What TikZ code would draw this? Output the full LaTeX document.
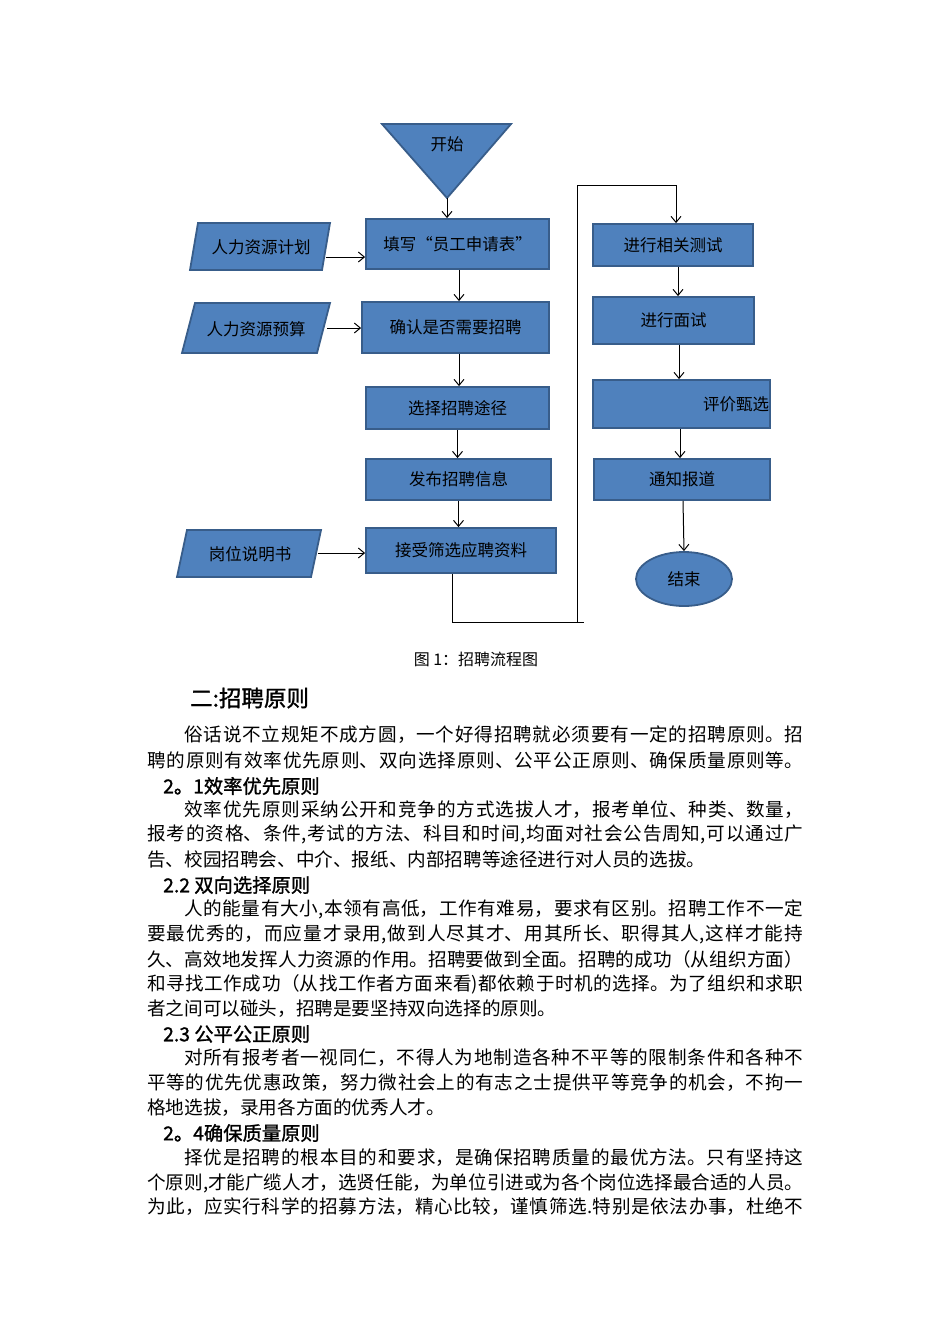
\documentclass[tikz,border=0pt]{standalone}
\usepackage{fontspec}
\setmainfont{Noto Sans CJK SC}
\newfontfamily\headfont[FakeBold=1.2]{Noto Sans CJK SC}
\usetikzlibrary{arrows.meta,shapes.geometric}
\XeTeXlinebreaklocale "zh"
\XeTeXlinebreakskip=0pt
\definecolor{boxblue}{HTML}{4F81BD}
\definecolor{boxedge}{HTML}{385D8A}
\newcommand\jl[4]{\node[bodytext,anchor=west] (#1) at #2 {\parbox{#3}{\tolerance=10000\XeTeXlinebreakskip=0pt plus 8pt minus 2pt\relax\parfillskip=0pt\noindent #4}};}
\newcommand\nl[3]{\node[bodytext,anchor=west] (#1) at #2 {#3};}
\begin{document}
\begin{tikzpicture}[x=1pt,y=-1pt,
  stepbox/.style={draw=boxedge, fill=boxblue, line width=1.8pt, inner sep=0pt,
    font=\fontsize{16.5}{19}\selectfont},
  parabox/.style={draw=boxedge, fill=boxblue, line width=1.8pt, line join=miter},
  lbl/.style={font=\fontsize{16.5}{19}\selectfont, inner sep=0pt},
  arr/.style={-{Straight Barb[length=6pt,width=10pt]}, line width=1pt},
  conn/.style={line width=1pt},
  bodytext/.style={inner sep=0pt, font=\fontsize{18.6}{22}\selectfont},
  headtext/.style={inner sep=0pt, anchor=west, font=\headfont\fontsize{19.3}{22}\selectfont}]
\useasboundingbox[fill=white] (0,0) rectangle (950,1344);

% start triangle
\draw[parabox] (382,124) -- (511,124) -- (447,198) -- cycle;
\node[lbl] (start) at (447,144) {开始};
\coordinate (startapex) at (447,198);

% left column
\node[stepbox, minimum width=183pt, minimum height=50pt] (fill) at (457.5,244) {填写“员工申请表”};
\node[stepbox, minimum width=187pt, minimum height=51pt] (confirm) at (455.5,327.5) {确认是否需要招聘};
\node[stepbox, minimum width=183pt, minimum height=42pt] (choose) at (457.5,408) {选择招聘途径};
\node[stepbox, minimum width=185pt, minimum height=41pt] (publish) at (458.5,479.5) {发布招聘信息};
\node[stepbox, minimum width=190pt, minimum height=45pt] (receive) at (461,550.5) {接受筛选应聘资料};

% parallelograms
\draw[parabox] (198,223) -- (330,223) -- (322,270) -- (190,270) -- cycle;
\node[lbl] (plan) at (261,247) {人力资源计划};
\coordinate (planout) at (326,257);
\draw[parabox] (195,303) -- (330,303) -- (317,353) -- (182,353) -- cycle;
\node[lbl] (budget) at (256,329) {人力资源预算};
\coordinate (budgetout) at (327,328);
\draw[parabox] (187,530) -- (321,530) -- (311,577) -- (177,577) -- cycle;
\node[lbl] (post) at (250,554) {岗位说明书};
\coordinate (postout) at (318,553);

% right column
\node[stepbox, minimum width=160pt, minimum height=42pt] (test) at (673,245) {进行相关测试};
\node[stepbox, minimum width=161pt, minimum height=47pt] (interview) at (673.5,320.5) {进行面试};
\node[stepbox, minimum width=177pt, minimum height=48pt, text width=175pt, align=right] (eval) at (681.5,404) {评价甄选};
\node[stepbox, minimum width=176pt, minimum height=41pt] (notify) at (682,479.5) {通知报道};
\node[stepbox, ellipse, minimum width=96pt, minimum height=54pt] (end) at (684,579) {结束};

% arrows left
\draw[arr] (startapex) -- (startapex |- fill.north);
\draw[arr] (planout) -- (fill.west |- planout);
\draw[arr] (budgetout) -- (confirm.west |- budgetout);
\draw[arr] (postout) -- (receive.west |- postout);
\draw[arr] ([xshift=1.5pt]fill.south) -- ([xshift=1.5pt]fill.south |- confirm.north);
\draw[arr] ([xshift=3.5pt]confirm.south) -- ([xshift=3.5pt]confirm.south |- choose.north);
\draw[arr] (choose.south) -- (choose.south |- publish.north);
\draw[arr] (publish.south) -- (publish.south |- receive.north);

% loop connector
\coordinate (loopB) at (452,622);
\coordinate (loopR) at (584,622);
\coordinate (loopV) at (577,622);
\coordinate (loopT) at (577,185);
\draw[conn] ([xshift=-9pt]receive.south) -- (loopB) -- (loopR);
\draw[arr] (loopV) -- (loopT) -| ([xshift=3pt]test.north);

% arrows right
\draw[arr] ([xshift=5pt]test.south) -- ([xshift=5pt]test.south |- interview.north);
\draw[arr] ([xshift=5.5pt]interview.south) -- ([xshift=5.5pt]interview.south |- eval.north);
\draw[arr] ([xshift=-1.5pt]eval.south) -- ([xshift=-1.5pt]eval.south |- notify.north);
\draw[arr] ([xshift=1pt]notify.south) -- (end.north);

% caption
\node[inner sep=0pt, font=\fontsize{16}{18}\selectfont] (caption) at (476,659) {图 1：招聘流程图};

% text body
\node[inner sep=0pt, anchor=west, font=\headfont\fontsize{22.5}{26}\selectfont] (sec) at (190,698) {二:招聘原则};
\jl{l1}{(184,735)}{619pt}{俗话说不立规矩不成方圆，一个好得招聘就必须要有一定的招聘原则。招}
\jl{l2}{(147,760)}{656pt}{聘的原则有效率优先原则、双向选择原则、公平公正原则、确保质量原则等。}
\node[headtext] (h1) at (163,786) {2。1效率优先原则};
\jl{l3}{(184,810)}{619pt}{效率优先原则采纳公开和竞争的方式选拔人才，报考单位、种类、数量，}
\jl{l4}{(147,834)}{656pt}{报考的资格、条件,考试的方法、科目和时间,均面对社会公告周知,可以通过广}
\nl{l5}{(147,859)}{告、校园招聘会、中介、报纸、内部招聘等途径进行对人员的选拔。}
\node[headtext] (h2) at (163,885) {2.2 双向选择原则};
\jl{l6}{(184,909)}{619pt}{人的能量有大小,本领有高低，工作有难易，要求有区别。招聘工作不一定}
\jl{l7}{(147,934)}{656pt}{要最优秀的，而应量才录用,做到人尽其才、用其所长、职得其人,这样才能持}
\jl{l8}{(147,959)}{656pt}{久、高效地发挥人力资源的作用。招聘要做到全面。招聘的成功（从组织方面）}
\jl{l9}{(147,984)}{656pt}{和寻找工作成功（从找工作者方面来看)都依赖于时机的选择。为了组织和求职}
\nl{l10}{(147,1009)}{者之间可以碰头，招聘是要坚持双向选择的原则。}
\node[headtext] (h3) at (163,1034) {2.3 公平公正原则};
\jl{l11}{(184,1058)}{619pt}{对所有报考者一视同仁，不得人为地制造各种不平等的限制条件和各种不}
\jl{l12}{(147,1083)}{656pt}{平等的优先优惠政策，努力微社会上的有志之士提供平等竞争的机会，不拘一}
\nl{l13}{(147,1108)}{格地选拔，录用各方面的优秀人才。}
\node[headtext] (h4) at (163,1133) {2。4确保质量原则};
\jl{l14}{(184,1158)}{619pt}{择优是招聘的根本目的和要求，是确保招聘质量的最优方法。只有坚持这}
\jl{l15}{(147,1183)}{656pt}{个原则,才能广缆人才，选贤任能，为单位引进或为各个岗位选择最合适的人员。}
\jl{l16}{(147,1207)}{656pt}{为此，应实行科学的招募方法，精心比较，谨慎筛选.特别是依法办事，杜绝不}
\end{tikzpicture}
\end{document}
